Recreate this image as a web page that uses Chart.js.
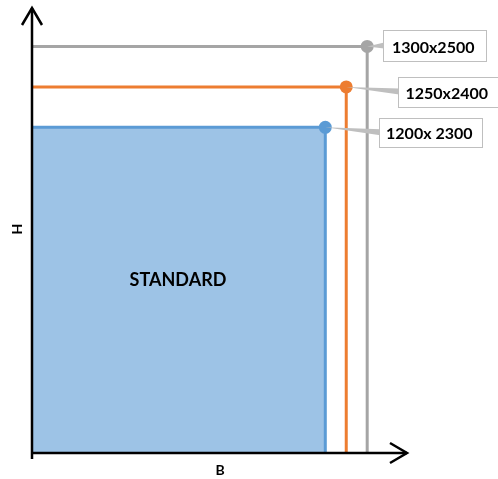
<!DOCTYPE html>
<html>
<head>
<meta charset="utf-8">
<script src="https://cdn.jsdelivr.net/npm/chart.js@4/dist/chart.umd.min.js"></script>
<style>
  html, body { margin: 0; padding: 0; background: #fff; }
  #wrap { width: 498px; height: 479px; position: relative; }
</style>
</head>
<body>
<div id="wrap"><canvas id="sizeChart"></canvas></div>
<script>
/* =========================
   DATA
========================= */
const sizeLabels = ['1200x 2300', '1250x2400', '1300x2500'];
const widthsB = [1200, 1250, 1300];
const heightsH = [2300, 2400, 2500];
const areaLabel = 'STANDARD';
const axisTitleX = 'B';
const axisTitleY = 'H';

/* axis range */
const xRange = [500, 1395];
const yRange = [1495, 2595];

/* =========================
   STYLES
========================= */
const lineColors = ['#5B9BD5', '#ED7D31', '#A5A5A5'];
// callout box: [dx, dy (centre), width, height] from the marker
const labelBoxes = [[54, 6, 104, 30], [52, 5.5, 101, 31], [16, 0, 104, 32]];
const fontFam = 'Lato, "Open Sans", sans-serif';

/* =========================
   DATASETS
========================= */
const datasets = widthsB.map((w, i) => ({
    label: sizeLabels[i],
    data: [
        {x: xRange[0], y: heightsH[i]},
        {x: w, y: heightsH[i]},
        {x: w, y: yRange[0]}
    ],
    showLine: true,
    borderColor: lineColors[i],
    borderWidth: 3,
    backgroundColor: i === 0 ? '#9DC3E6' : lineColors[i],
    pointBackgroundColor: lineColors[i],
    pointBorderWidth: 0,
    pointRadius: [0, 6.5, 0],
    fill: i === 0 ? 'start' : false,
    tension: 0,
    clip: false,
    order: 3 - i
}));

/* =========================
   DECORATION PLUGIN
   axes with arrows, callouts, titles
========================= */
const decor = {
    id: 'decor',
    afterDatasetsDraw(chart){
        const ctx = chart.ctx;
        const xs = chart.scales.x, ys = chart.scales.y;
        const left = xs.getPixelForValue(xRange[0]);
        const bottom = ys.getPixelForValue(yRange[0]);
        const right = xs.getPixelForValue(xRange[1]);
        const top = ys.getPixelForValue(yRange[1]);

        ctx.save();
        ctx.strokeStyle = '#000';
        ctx.lineWidth = 2.5;
        ctx.lineCap = 'butt';

        // y axis
        ctx.beginPath();
        ctx.moveTo(left, bottom + 6);
        ctx.lineTo(left, top);
        ctx.stroke();
        ctx.beginPath();
        ctx.moveTo(left - 10, top + 17);
        ctx.lineTo(left, top);
        ctx.lineTo(left + 10, top + 17);
        ctx.stroke();

        // x axis
        ctx.beginPath();
        ctx.moveTo(left, bottom);
        ctx.lineTo(right, bottom);
        ctx.stroke();
        ctx.beginPath();
        ctx.moveTo(right - 17, bottom - 10);
        ctx.lineTo(right, bottom);
        ctx.lineTo(right - 17, bottom + 10);
        ctx.stroke();

        // titles
        ctx.fillStyle = '#000';
        ctx.font = 'bold 14px ' + fontFam;
        ctx.textAlign = 'center';
        ctx.textBaseline = 'middle';
        ctx.fillText(axisTitleX, 220, 470);
        ctx.save();
        ctx.translate(17, 229);
        ctx.rotate(-Math.PI / 2);
        ctx.fillText(axisTitleY, 0, 0);
        ctx.restore();

        ctx.font = 'bold 18px ' + fontFam;
        ctx.fillText(areaLabel, 178, 280);

        // callouts
        ctx.font = 'bold 16px ' + fontFam;
        widthsB.forEach((w, i) => {
            const px = xs.getPixelForValue(w);
            const py = ys.getPixelForValue(heightsH[i]);
            const [dx, dy, bw, bh] = labelBoxes[i];
            const bx = px + dx;
            const by = py + dy;

            ctx.fillStyle = '#BFBFBF';
            ctx.beginPath();
            ctx.moveTo(px, py);
            ctx.lineTo(bx + 1, by - 4);
            ctx.lineTo(bx + 1, by + 2);
            ctx.closePath();
            ctx.fill();

            ctx.fillStyle = '#fff';
            ctx.fillRect(bx, by - bh / 2, bw, bh);
            ctx.strokeStyle = '#BFBFBF';
            ctx.lineWidth = 1;
            ctx.strokeRect(Math.round(bx) + 0.5, Math.round(by - bh / 2) + 0.5, bw - 1, bh - 1);

            ctx.fillStyle = '#000';
            ctx.textAlign = 'center';
            ctx.fillText(sizeLabels[i], bx + bw / 2 - 2, by + 1);
        });
        ctx.restore();
    }
};

/* =========================
   CHART
========================= */
const sizeChart = new Chart(document.getElementById('sizeChart'), {
    type: 'scatter',
    data: { datasets: datasets },
    options: {
        responsive: true,
        maintainAspectRatio: false,
        animation: false,
        layout: { padding: { left: 32, right: 91, top: 8, bottom: 26 } },
        plugins: {
            legend: { display: false },
            tooltip: { enabled: false }
        },
        scales: {
            x: { type: 'linear', display: false, min: xRange[0], max: xRange[1] },
            y: { type: 'linear', display: false, min: yRange[0], max: yRange[1] }
        }
    },
    plugins: [decor]
});
</script>
</body>
</html>
